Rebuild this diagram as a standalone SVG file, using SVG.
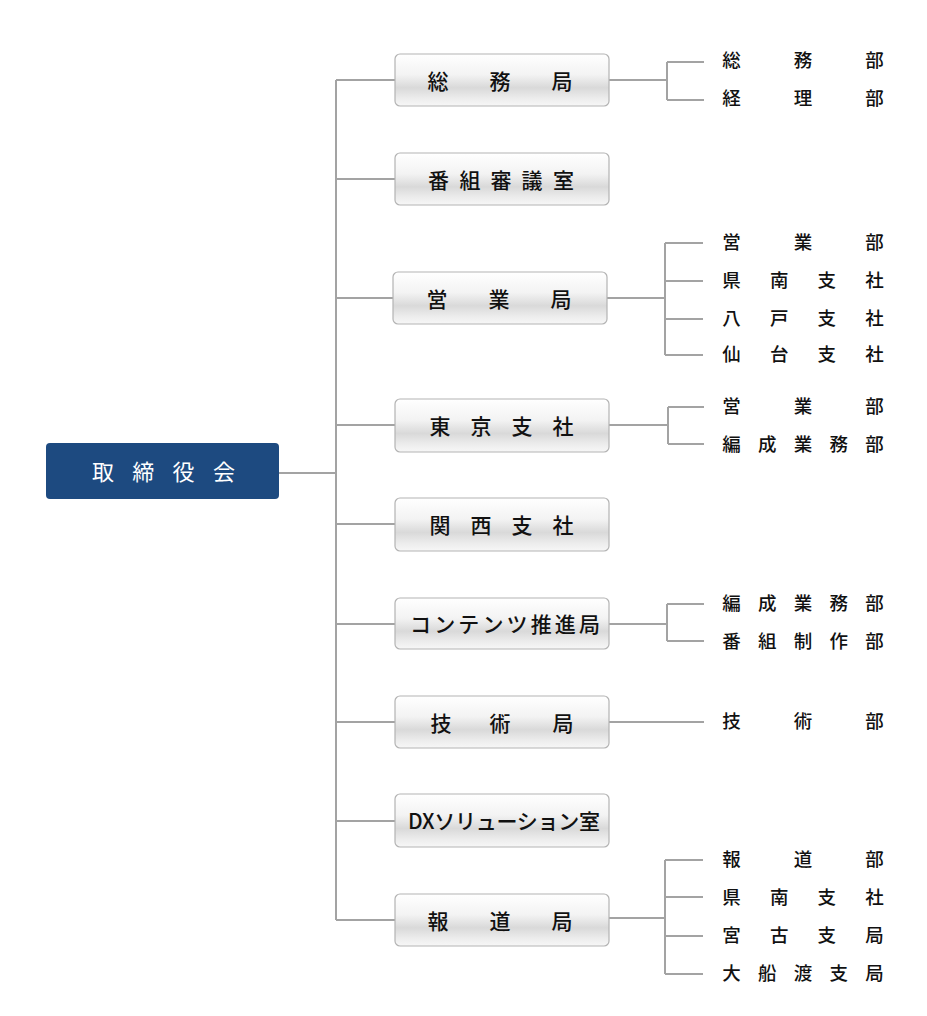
<svg xmlns="http://www.w3.org/2000/svg" width="927" height="1016" viewBox="0 0 927 1016">
<defs>
<linearGradient id="g" x1="0" y1="0" x2="0" y2="1">
<stop offset="0" stop-color="#ffffff"/>
<stop offset="0.4" stop-color="#f3f3f3"/>
<stop offset="0.65" stop-color="#d9d9d9"/>
<stop offset="0.85" stop-color="#ececec"/>
<stop offset="1" stop-color="#f7f7f7"/>
</linearGradient>
<style>
.box{fill:url(#g);stroke:#b3b3b3;stroke-width:1.2}
.bt{font-family:"Noto Sans CJK JP","Noto Sans",sans-serif;font-size:21px;font-weight:500;fill:#111;text-anchor:middle;dominant-baseline:central}
.bt2{font-family:"Noto Sans CJK JP","Noto Sans",sans-serif;font-size:21px;font-weight:500;fill:#111;dominant-baseline:central}
.rt{font-family:"Noto Sans CJK JP","Noto Sans",sans-serif;font-size:18.5px;font-weight:500;fill:#111;text-anchor:middle;dominant-baseline:central}
.ln{fill:none;stroke:#a3a3a3;stroke-width:2}
</style>
</defs>
<rect width="927" height="1016" fill="#ffffff"/>
<g id="connectors" class="ln">
<path d="M279 473H336M336 80V920"/>
<path d="M336 80H395M336 179H395M336 298H393M336 425H395M336 524H395M336 624H395M336 722H395M336 821H395M336 920H395"/>
<path d="M609 80H667M667 62V100M667 62H704M667 100H704"/>
<path d="M607 298H665M665 243V355M665 243H703M665 281H703M665 319H703M665 355H703"/>
<path d="M609 425H668M668 407V444M668 407H704M668 444H704"/>
<path d="M609 624H667M667 604V641M667 604H704M667 641H704"/>
<path d="M609 722H704"/>
<path d="M609 918H665M665 860V974M665 860H703M665 897H703M665 936H703M665 974H703"/>
</g>
<g id="board">
<rect x="46" y="443" width="233" height="56" rx="4" fill="#1d4a80"/>
<text class="bt" style="fill:#fff;font-size:22px;font-weight:400" x="103 143.3 183.6 224" y="470">取締役会</text>
</g>
<g id="n1"><rect class="box" x="395" y="54" width="214" height="52" rx="5"/><text class="bt" x="438 500 562" y="80">総務局</text></g>
<g id="n2"><rect class="box" x="395" y="153" width="214" height="52" rx="5"/><text class="bt" x="438.5 470 501 532 563.5" y="179">番組審議室</text></g>
<g id="n3"><rect class="box" x="393" y="272" width="214" height="52" rx="5"/><text class="bt" x="437 499 561" y="298">営業局</text></g>
<g id="n4"><rect class="box" x="395" y="399" width="214" height="53" rx="5"/><text class="bt" x="440 481 522 563" y="425">東京支社</text></g>
<g id="n5"><rect class="box" x="395" y="498" width="214" height="53" rx="5"/><text class="bt" x="440 481 522 563" y="524">関西支社</text></g>
<g id="n6"><rect class="box" x="395" y="598" width="214" height="51" rx="5"/><text class="bt2" x="410" y="623" textLength="190" lengthAdjust="spacing">コンテンツ推進局</text></g>
<g id="n7"><rect class="box" x="395" y="696" width="214" height="52" rx="5"/><text class="bt" x="441 500 563" y="722">技術局</text></g>
<g id="n8"><rect class="box" x="395" y="794" width="214" height="53" rx="5"/><text class="bt2" x="408" y="820" textLength="192" lengthAdjust="spacing">DXソリューション室</text></g>
<g id="n9"><rect class="box" x="395" y="894" width="214" height="52" rx="5"/><text class="bt" x="438 500 562" y="920">報道局</text></g>
<g id="sub1">
<text class="rt" x="731.5 803 874.5" y="59">総務部</text>
<text class="rt" x="731.5 803 874.5" y="97">経理部</text>
</g>
<g id="sub3">
<text class="rt" x="731.5 803 874.5" y="241">営業部</text>
<text class="rt" x="731.5 779.2 826.8 874.5" y="279">県南支社</text>
<text class="rt" x="731.5 779.2 826.8 874.5" y="317">八戸支社</text>
<text class="rt" x="731.5 779.2 826.8 874.5" y="353">仙台支社</text>
</g>
<g id="sub4">
<text class="rt" x="731.5 803 874.5" y="405">営業部</text>
<text class="rt" x="731.5 767.25 803 838.75 874.5" y="443">編成業務部</text>
</g>
<g id="sub6">
<text class="rt" x="731.5 767.25 803 838.75 874.5" y="602">編成業務部</text>
<text class="rt" x="731.5 767.25 803 838.75 874.5" y="640">番組制作部</text>
</g>
<g id="sub7">
<text class="rt" x="731.5 803 874.5" y="720">技術部</text>
</g>
<g id="sub9">
<text class="rt" x="731.5 803 874.5" y="858">報道部</text>
<text class="rt" x="731.5 779.2 826.8 874.5" y="896">県南支社</text>
<text class="rt" x="731.5 779.2 826.8 874.5" y="934">宮古支局</text>
<text class="rt" x="731.5 767.25 803 838.75 874.5" y="972">大船渡支局</text>
</g>
</svg>
